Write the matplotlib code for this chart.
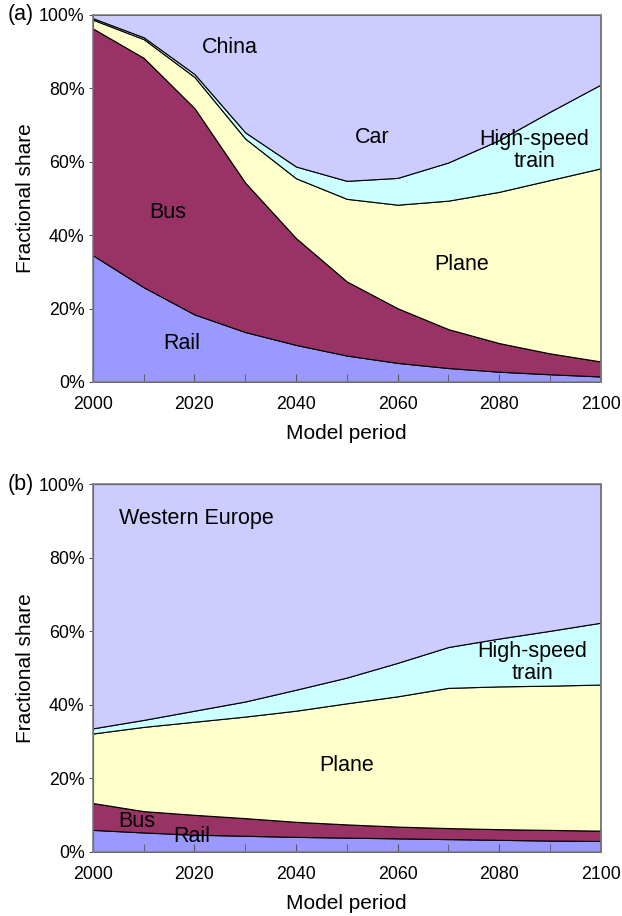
import matplotlib
matplotlib.use("Agg")
import matplotlib.pyplot as plt
from matplotlib.ticker import MultipleLocator, PercentFormatter

plt.rcParams['font.family'] = ['Liberation Sans', 'DejaVu Sans']

years = [2000, 2010, 2020, 2030, 2040, 2050, 2060, 2070, 2080, 2090, 2100]
modes = ['Rail', 'Bus', 'Plane', 'High-speed train', 'Car']
mode_colors = ['#9999ff', '#993366', '#ffffcc', '#ccffff', '#ccccff']

# China, share of each mode in % (stacked bottom to top)
china_rail = [34.5, 25.8, 18.4, 13.6, 10.1, 7.2, 5.2, 3.8, 2.8, 2.1, 1.5]
china_bus = [61.8, 62.5, 56.2, 40.7, 29.1, 20.2, 14.9, 10.6, 7.8, 5.7, 4.1]
china_plane = [2.4, 5.1, 8.5, 12.0, 16.3, 22.5, 28.2, 35.0, 41.2, 47.2, 52.6]
china_hst = [0.4, 0.5, 0.8, 1.7, 3.2, 4.9, 7.3, 10.4, 14.1, 18.6, 22.8]
china_car = [0.9, 6.1, 16.1, 32.0, 41.3, 45.2, 44.4, 40.2, 34.1, 26.4, 19.0]

# Western Europe
weu_rail = [6.0, 5.3, 4.7, 4.4, 4.1, 3.9, 3.7, 3.5, 3.3, 3.1, 3.0]
weu_bus = [7.3, 5.8, 5.4, 4.8, 4.1, 3.6, 3.2, 3.0, 2.9, 2.9, 2.8]
weu_plane = [18.9, 22.9, 25.3, 27.6, 30.2, 32.9, 35.4, 38.1, 38.8, 39.2, 39.7]
weu_hst = [1.4, 1.9, 3.0, 4.1, 5.7, 7.0, 9.1, 11.1, 13.0, 14.9, 16.8]
weu_car = [66.4, 64.1, 61.6, 59.1, 55.9, 52.6, 48.6, 44.3, 42.0, 39.9, 37.7]

fig = plt.figure(figsize=(6.22, 9.16), dpi=100)
ax_a = fig.add_axes([0.1495, 0.583, 0.816, 0.4007])
ax_b = fig.add_axes([0.1495, 0.0699, 0.816, 0.4017])

panels = [
    (ax_a, [china_rail, china_bus, china_plane, china_hst, china_car], '(a)'),
    (ax_b, [weu_rail, weu_bus, weu_plane, weu_hst, weu_car], '(b)'),
]

for ax, shares, tag in panels:
    ax.stackplot(years, *shares, colors=mode_colors,
                 edgecolor='black', linewidth=0.8)
    ax.set_xlim(2000, 2100)
    ax.set_ylim(0, 100)
    ax.xaxis.set_major_locator(MultipleLocator(20))
    ax.xaxis.set_minor_locator(MultipleLocator(10))
    ax.yaxis.set_major_locator(MultipleLocator(20))
    ax.yaxis.set_major_formatter(PercentFormatter(decimals=0))
    ax.tick_params(axis='x', which='both', direction='in', length=6,
                   color='#555555', labelsize=12.8, pad=10)
    ax.tick_params(axis='y', direction='out', length=3, color='#555555',
                   labelsize=12.8, pad=3)
    for lbl in ax.get_yticklabels():
        lbl.set_va('center_baseline')
    for s in ax.spines.values():
        s.set_color('#808080')
        s.set_linewidth(1.2)
        s.set_zorder(5)
    ax.set_xlabel('Model period', fontsize=15, labelpad=8)
    ax.set_ylabel('Fractional share', fontsize=15, labelpad=3)
    ax.text(-0.168, 1.0, tag, transform=ax.transAxes, fontsize=15.5,
            ha='left', va='center')

fs = 15.5
ax_a.text(2027, 91, 'China', fontsize=fs, ha='center', va='center')
ax_a.text(2055, 66.5, 'Car', fontsize=fs, ha='center', va='center')
ax_a.text(2087, 63, 'High-speed\ntrain', fontsize=fs, ha='center',
          va='center', linespacing=1.05)
ax_a.text(2014.7, 46.3, 'Bus', fontsize=fs, ha='center', va='center')
ax_a.text(2072.6, 32, 'Plane', fontsize=fs, ha='center', va='center')
ax_a.text(2017.4, 10.6, 'Rail', fontsize=fs, ha='center', va='center')

ax_b.text(2020.4, 90.5, 'Western Europe', fontsize=fs, ha='center', va='center')
ax_b.text(2086.5, 51.4, 'High-speed\ntrain', fontsize=fs, ha='center',
          va='center', linespacing=1.05)
ax_b.text(2050, 23.6, 'Plane', fontsize=fs, ha='center', va='center')
ax_b.text(2008.6, 8.4, 'Bus', fontsize=fs, ha='center', va='center')
ax_b.text(2019.4, 4.3, 'Rail', fontsize=fs, ha='center', va='center')

fig.savefig('out.png', dpi=100)
